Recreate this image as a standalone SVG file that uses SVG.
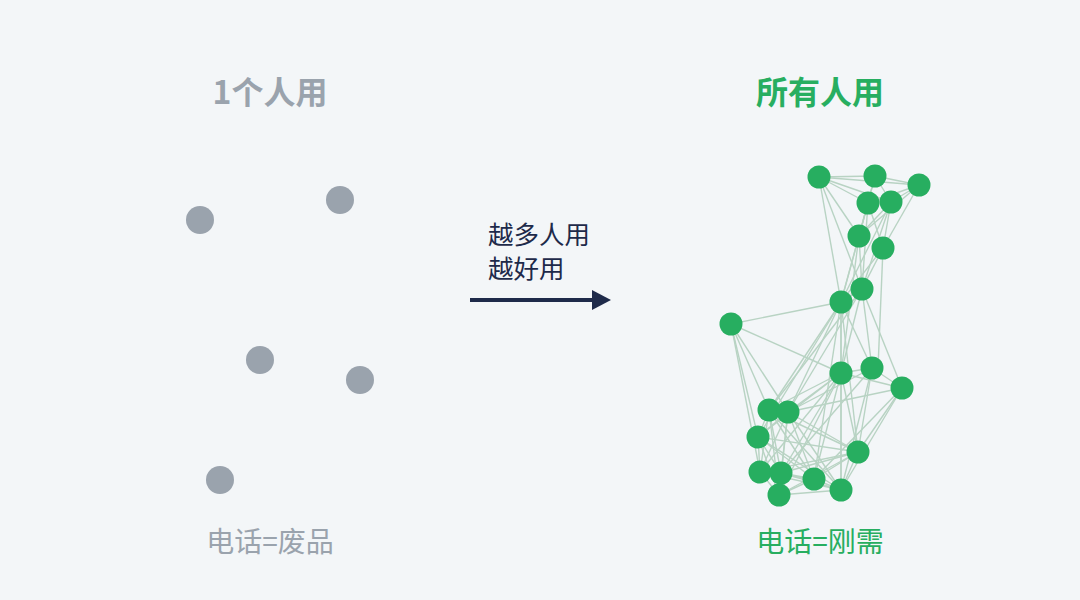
<svg xmlns="http://www.w3.org/2000/svg" width="1080" height="600" viewBox="0 0 1080 600">
<style>
.t{font-family:"Noto Sans CJK SC","Noto Sans",sans-serif;text-anchor:middle}
.gray{fill:#9aa3ad}
.green{fill:#27ae60}
.e line{stroke:#b8d3c3;stroke-width:1.4}
</style>
<rect width="1080" height="600" fill="#f3f6f8"/>
<g id="title-left"><text class="t gray" x="270" y="104" font-size="32" font-weight="bold">1个人用</text></g>
<g id="title-right"><text class="t green" x="820" y="104" font-size="32" font-weight="bold">所有人用</text></g>
<g id="left-nodes" class="gray">
<circle cx="200" cy="220" r="14"/>
<circle cx="340" cy="200" r="14"/>
<circle cx="260" cy="360" r="14"/>
<circle cx="360" cy="380" r="14"/>
<circle cx="220" cy="480" r="14"/>
</g>
<g id="label-left"><text class="t gray" x="270" y="552" font-size="28">电话=废品</text></g>
<g id="arrow">
<text class="t" x="488" y="244" font-size="25.5" fill="#1e2a4a" style="text-anchor:start">越多人用</text>
<text class="t" x="488" y="278" font-size="25.5" fill="#1e2a4a" style="text-anchor:start">越好用</text>
<line x1="470" y1="300" x2="596" y2="300" stroke="#1e2a4a" stroke-width="4"/>
<polygon points="592,290 611,300 592,310" fill="#1e2a4a"/>
</g>
<g id="connectors" class="e">
<line x1="819" y1="177" x2="875" y2="176"/><line x1="819" y1="177" x2="919" y2="185"/><line x1="819" y1="177" x2="868" y2="203"/><line x1="819" y1="177" x2="891" y2="202"/><line x1="819" y1="177" x2="859" y2="236"/><line x1="819" y1="177" x2="862" y2="289"/><line x1="819" y1="177" x2="841" y2="302"/>
<line x1="875" y1="176" x2="919" y2="185"/><line x1="875" y1="176" x2="868" y2="203"/><line x1="875" y1="176" x2="891" y2="202"/><line x1="875" y1="176" x2="859" y2="236"/>
<line x1="919" y1="185" x2="891" y2="202"/><line x1="919" y1="185" x2="868" y2="203"/><line x1="919" y1="185" x2="859" y2="236"/><line x1="919" y1="185" x2="883" y2="248"/>
<line x1="868" y1="203" x2="859" y2="236"/><line x1="868" y1="203" x2="883" y2="248"/><line x1="868" y1="203" x2="862" y2="289"/><line x1="868" y1="203" x2="841" y2="302"/>
<line x1="891" y1="202" x2="859" y2="236"/><line x1="891" y1="202" x2="883" y2="248"/><line x1="891" y1="202" x2="862" y2="289"/><line x1="891" y1="202" x2="841" y2="302"/>
<line x1="859" y1="236" x2="862" y2="289"/><line x1="859" y1="236" x2="841" y2="302"/><line x1="859" y1="236" x2="841" y2="373"/>
<line x1="883" y1="248" x2="862" y2="289"/><line x1="883" y1="248" x2="841" y2="302"/><line x1="883" y1="248" x2="878" y2="368"/>
<line x1="862" y1="289" x2="841" y2="302"/><line x1="862" y1="289" x2="841" y2="373"/><line x1="862" y1="289" x2="872" y2="368"/><line x1="862" y1="289" x2="902" y2="388"/><line x1="862" y1="289" x2="769" y2="410"/><line x1="862" y1="289" x2="788" y2="412"/>
<line x1="841" y1="302" x2="731" y2="324"/><line x1="841" y1="302" x2="841" y2="373"/><line x1="841" y1="302" x2="872" y2="368"/><line x1="841" y1="302" x2="769" y2="410"/><line x1="841" y1="302" x2="788" y2="412"/><line x1="841" y1="302" x2="758" y2="437"/><line x1="841" y1="302" x2="858" y2="452"/><line x1="841" y1="302" x2="814" y2="479"/><line x1="841" y1="302" x2="841" y2="490"/>
<line x1="731" y1="324" x2="841" y2="373"/><line x1="731" y1="324" x2="769" y2="410"/><line x1="731" y1="324" x2="788" y2="412"/><line x1="731" y1="324" x2="758" y2="437"/><line x1="731" y1="324" x2="760" y2="472"/>
<line x1="841" y1="373" x2="872" y2="368"/><line x1="841" y1="373" x2="902" y2="388"/><line x1="841" y1="373" x2="769" y2="410"/><line x1="841" y1="373" x2="788" y2="412"/><line x1="841" y1="373" x2="758" y2="437"/><line x1="841" y1="373" x2="858" y2="452"/><line x1="841" y1="373" x2="760" y2="472"/><line x1="841" y1="373" x2="781" y2="473"/><line x1="841" y1="373" x2="814" y2="479"/><line x1="841" y1="373" x2="841" y2="490"/><line x1="841" y1="373" x2="779" y2="495"/>
<line x1="872" y1="368" x2="902" y2="388"/><line x1="872" y1="368" x2="788" y2="412"/><line x1="872" y1="368" x2="858" y2="452"/><line x1="872" y1="368" x2="841" y2="490"/><line x1="872" y1="368" x2="781" y2="473"/>
<line x1="902" y1="388" x2="788" y2="412"/><line x1="902" y1="388" x2="858" y2="452"/><line x1="902" y1="388" x2="814" y2="479"/><line x1="902" y1="388" x2="841" y2="490"/>
<line x1="769" y1="410" x2="788" y2="412"/><line x1="769" y1="410" x2="758" y2="437"/><line x1="769" y1="410" x2="858" y2="452"/><line x1="769" y1="410" x2="760" y2="472"/><line x1="769" y1="410" x2="781" y2="473"/><line x1="769" y1="410" x2="814" y2="479"/><line x1="769" y1="410" x2="841" y2="490"/><line x1="769" y1="410" x2="779" y2="495"/>
<line x1="788" y1="412" x2="758" y2="437"/><line x1="788" y1="412" x2="858" y2="452"/><line x1="788" y1="412" x2="760" y2="472"/><line x1="788" y1="412" x2="781" y2="473"/><line x1="788" y1="412" x2="814" y2="479"/><line x1="788" y1="412" x2="841" y2="490"/><line x1="788" y1="412" x2="779" y2="495"/>
<line x1="758" y1="437" x2="858" y2="452"/><line x1="758" y1="437" x2="760" y2="472"/><line x1="758" y1="437" x2="781" y2="473"/><line x1="758" y1="437" x2="814" y2="479"/><line x1="758" y1="437" x2="779" y2="495"/><line x1="758" y1="437" x2="841" y2="490"/>
<line x1="858" y1="452" x2="760" y2="472"/><line x1="858" y1="452" x2="781" y2="473"/><line x1="858" y1="452" x2="814" y2="479"/><line x1="858" y1="452" x2="841" y2="490"/><line x1="858" y1="452" x2="779" y2="495"/>
<line x1="760" y1="472" x2="781" y2="473"/><line x1="760" y1="472" x2="814" y2="479"/><line x1="760" y1="472" x2="779" y2="495"/><line x1="760" y1="472" x2="841" y2="490"/>
<line x1="781" y1="473" x2="814" y2="479"/><line x1="781" y1="473" x2="841" y2="490"/><line x1="781" y1="473" x2="779" y2="495"/>
<line x1="814" y1="479" x2="841" y2="490"/><line x1="814" y1="479" x2="779" y2="495"/><line x1="841" y1="490" x2="779" y2="495"/>
</g>
<g id="right-nodes" class="green">
<circle cx="819" cy="177" r="11.5"/><circle cx="875" cy="176" r="11.5"/><circle cx="919" cy="185" r="11.5"/>
<circle cx="868" cy="203" r="11.5"/><circle cx="891" cy="202" r="11.5"/><circle cx="859" cy="236" r="11.5"/>
<circle cx="883" cy="248" r="11.5"/><circle cx="862" cy="289" r="11.5"/><circle cx="841" cy="302" r="11.5"/>
<circle cx="731" cy="324" r="11.5"/><circle cx="841" cy="373" r="11.5"/><circle cx="872" cy="368" r="11.5"/>
<circle cx="902" cy="388" r="11.5"/><circle cx="769" cy="410" r="11.5"/><circle cx="788" cy="412" r="11.5"/>
<circle cx="758" cy="437" r="11.5"/><circle cx="858" cy="452" r="11.5"/><circle cx="760" cy="472" r="11.5"/>
<circle cx="781" cy="473" r="11.5"/><circle cx="814" cy="479" r="11.5"/><circle cx="841" cy="490" r="11.5"/>
<circle cx="779" cy="495" r="11.5"/>
</g>
<g id="label-right"><text class="t green" x="820" y="552" font-size="28">电话=刚需</text></g>
</svg>
